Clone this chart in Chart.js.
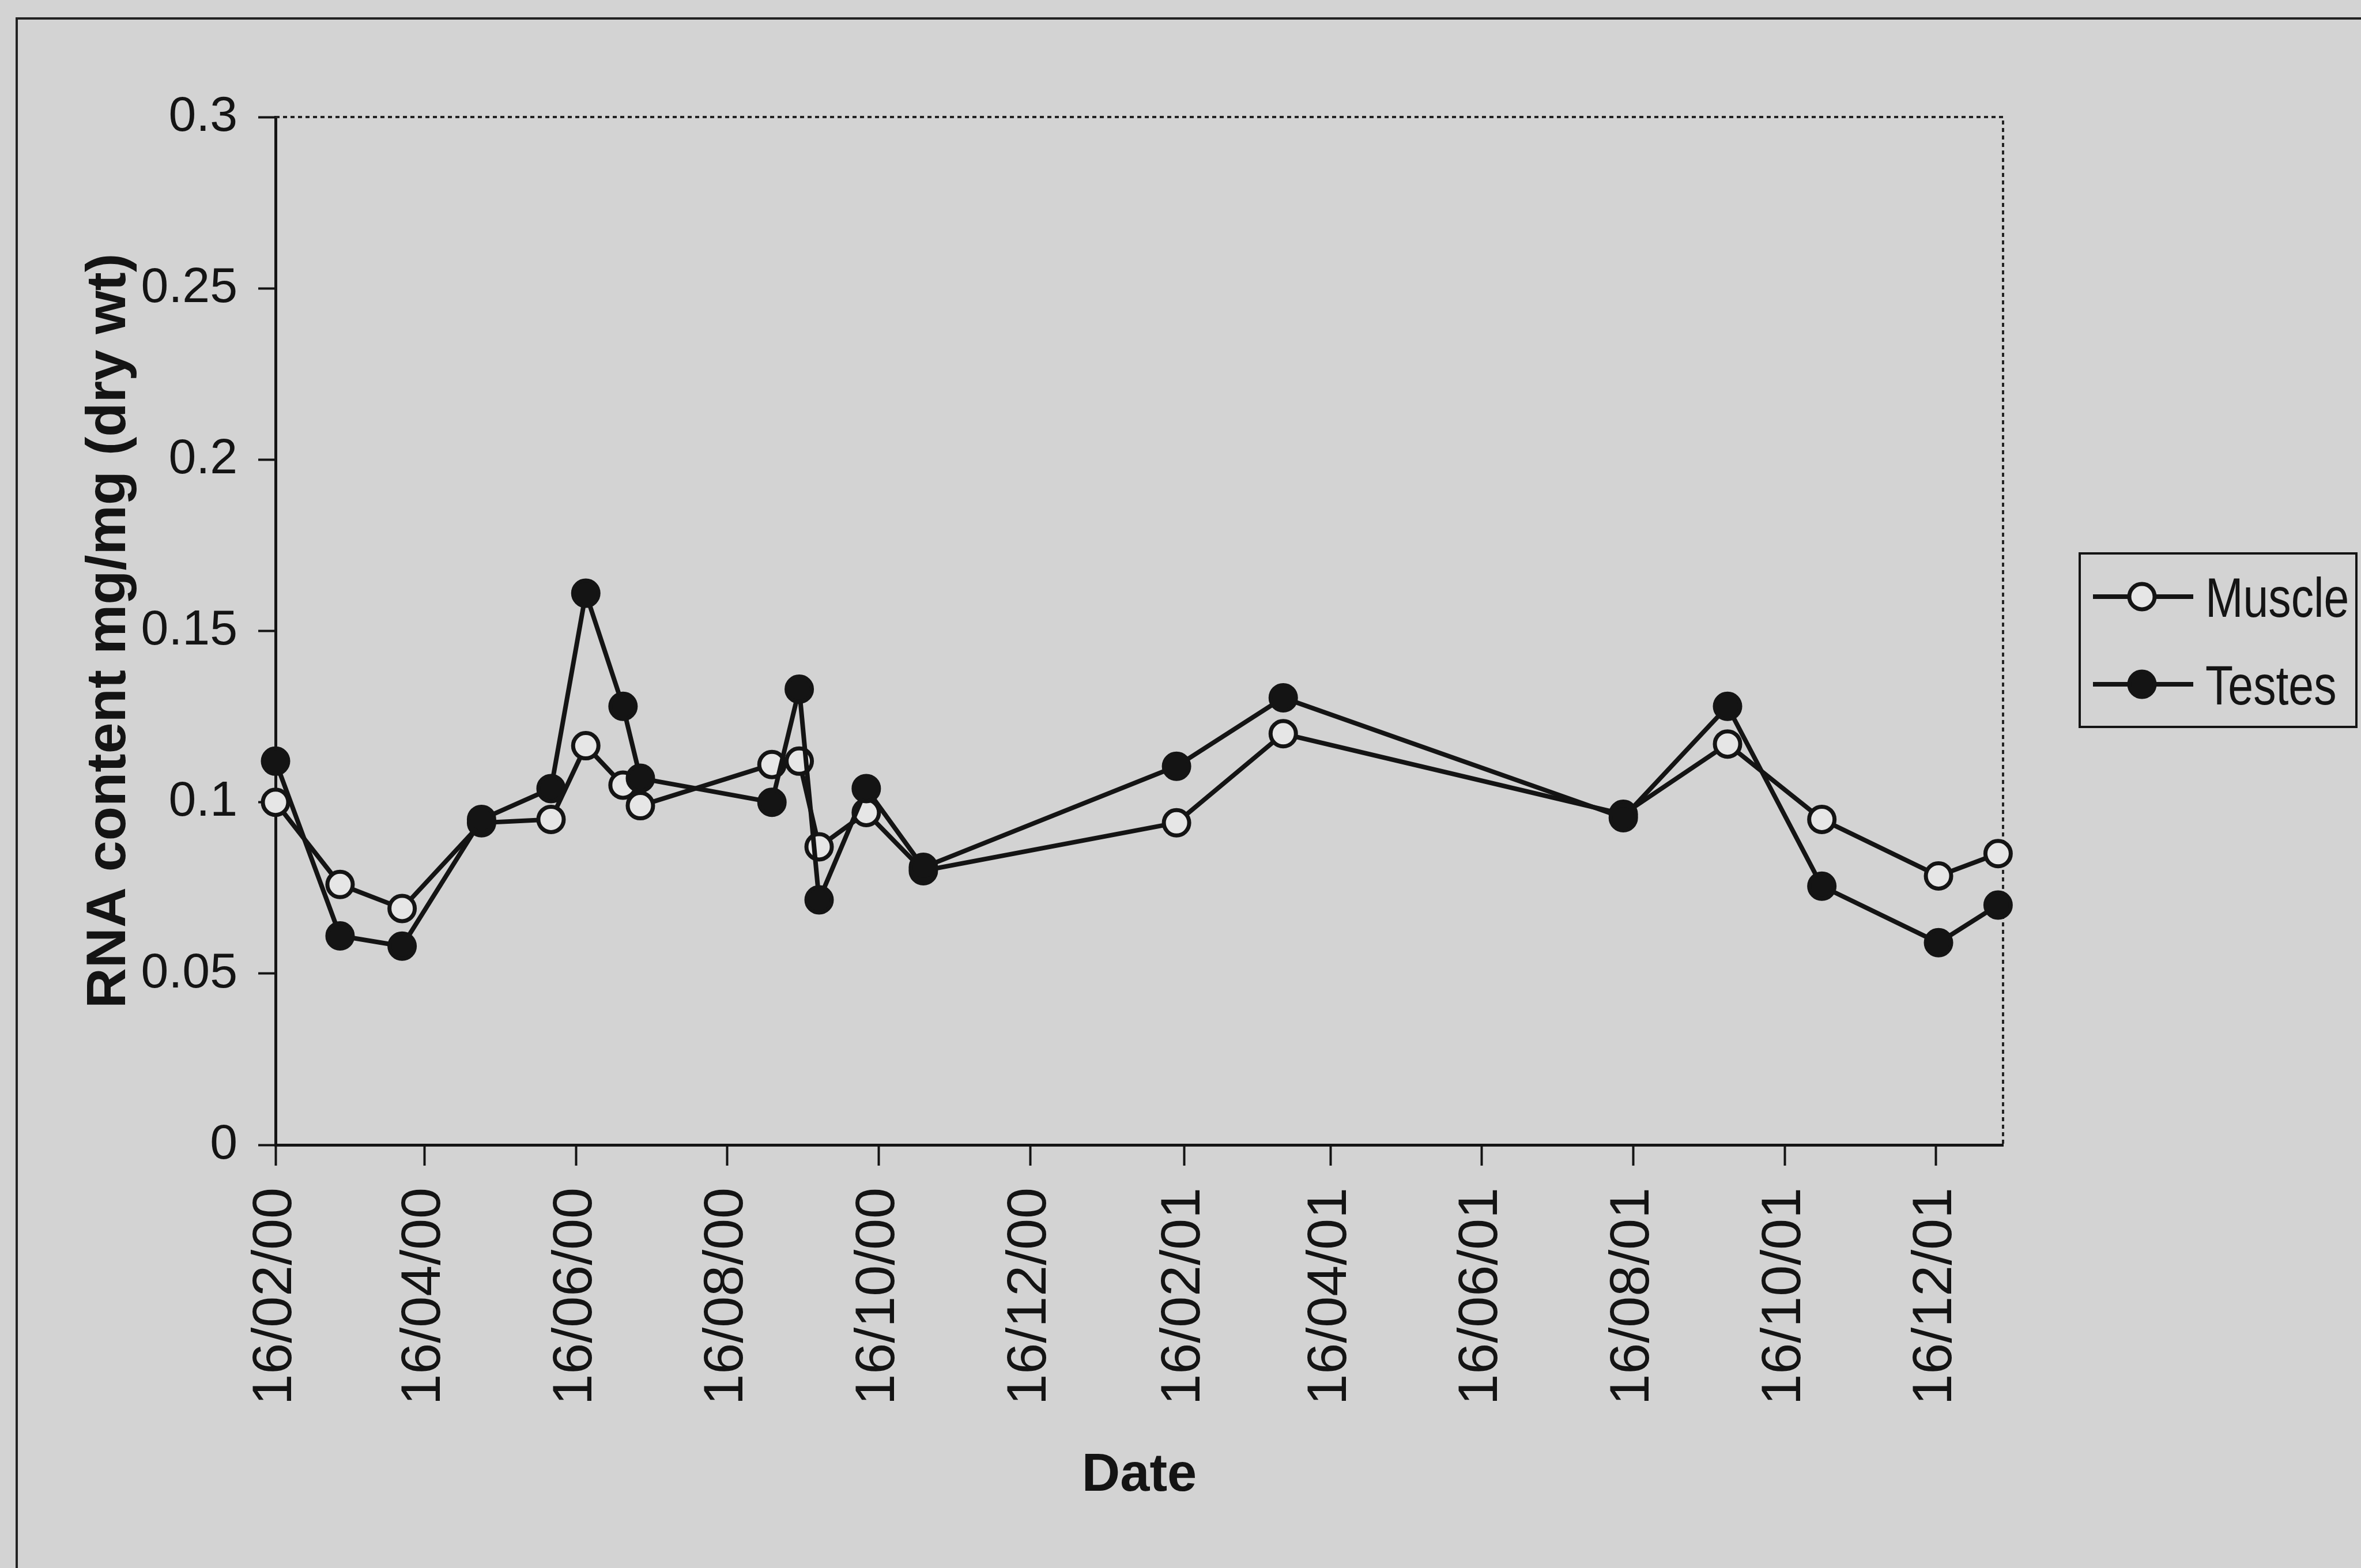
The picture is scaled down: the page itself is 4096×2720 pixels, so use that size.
<!DOCTYPE html>
<html>
<head>
<meta charset="utf-8">
<script src="https://cdn.jsdelivr.net/npm/chart.js@4.4.1/dist/chart.umd.min.js"></script>
<style>
  html, body { margin: 0; padding: 0; background: #d3d3d3; }
  canvas { display: block; }
</style>
</head>
<body>
<canvas id="rnaChart" width="4096" height="2720"></canvas>
<script>
// Ngày lấy mẫu (dd/mm/yy)
const sampleDates = ['16/02/00', '13/03/00', '07/04/00', '09/05/00', '06/06/00', '20/06/00', '05/07/00',
    '12/07/00', '03/09/00', '14/09/00', '22/09/00', '11/10/00', '03/11/00', '13/02/01', '28/03/01',
    '12/08/01', '23/09/01', '31/10/01', '17/12/01', '10/01/02'];
const muscleValues = [0.100, 0.076, 0.069, 0.094, 0.095, 0.1165, 0.105, 0.099, 0.111, 0.112, 0.087,
    0.097, 0.080, 0.094, 0.120, 0.0965, 0.117, 0.095, 0.0785, 0.085];
const testesValues = [0.112, 0.061, 0.058, 0.095, 0.104, 0.161, 0.128, 0.107, 0.100, 0.133, 0.0715,
    0.104, 0.081, 0.1105, 0.1305, 0.0955, 0.128, 0.0755, 0.059, 0.070];

// Nhãn trục x, trục kết thúc ở ngày cuối
const tickLabels = ['16/02/00', '16/04/00', '16/06/00', '16/08/00', '16/10/00', '16/12/00',
    '16/02/01', '16/04/01', '16/06/01', '16/08/01', '16/10/01', '16/12/01'];
const axisEnd = '12/01/02';

const FONT = '"Liberation Sans", Arial, Helvetica, sans-serif';
const INK = '#141414';

function parseDate(s) {
    const [d, m, y] = s.split('/').map(Number);
    return Date.UTC(2000 + y, m - 1, d);
}
const startTime = parseDate(tickLabels[0]);
const toDays = s => (parseDate(s) - startTime) / 86400000;
const tickDays = tickLabels.map(toDays);

// Nền, khung ngoài, viền chấm của vùng vẽ
const framePlugin = {
    id: 'framePlugin',
    beforeDraw(chart) {
        const ctx = chart.ctx;
        ctx.save();
        ctx.fillStyle = '#d3d3d3';
        ctx.fillRect(0, 0, chart.width, chart.height);
        ctx.strokeStyle = '#222';
        ctx.lineWidth = 4;
        ctx.strokeRect(29, 32, chart.width + 200, chart.height + 200);
        ctx.restore();
    },
    beforeDatasetsDraw(chart) {
        const { ctx, chartArea: a } = chart;
        ctx.save();
        ctx.strokeStyle = '#222';
        ctx.lineWidth = 4;
        ctx.setLineDash([7, 6]);
        ctx.beginPath();
        ctx.moveTo(a.left, a.top);
        ctx.lineTo(a.right, a.top);
        ctx.lineTo(a.right, a.bottom);
        ctx.stroke();
        ctx.restore();
    }
};

// Chú thích có khung bên phải
const boxLegend = {
    id: 'boxLegend',
    afterDraw(chart) {
        const ctx = chart.ctx;
        ctx.save();
        ctx.strokeStyle = INK;
        ctx.lineWidth = 4;
        ctx.strokeRect(3608, 960, 480, 301);
        chart.data.datasets.forEach((ds, i) => {
            const y = 1035 + i * 152;
            ctx.strokeStyle = ds.borderColor;
            ctx.lineWidth = ds.borderWidth;
            ctx.beginPath();
            ctx.moveTo(3631, y);
            ctx.lineTo(3805, y);
            ctx.stroke();
            ctx.beginPath();
            ctx.arc(3716, y, ds.pointRadius, 0, Math.PI * 2);
            ctx.fillStyle = ds.pointBackgroundColor;
            ctx.fill();
            ctx.lineWidth = ds.pointBorderWidth;
            ctx.stroke();
            ctx.fillStyle = INK;
            ctx.font = '96px ' + FONT;
            ctx.textBaseline = 'alphabetic';
            const w = ctx.measureText(ds.label).width;
            ctx.fillText(ds.label, 3826, y + 35, w * 0.82);
        });
        ctx.restore();
    }
};

const ctx = document.getElementById('rnaChart').getContext('2d');

const rnaChart = new Chart(ctx, {
    type: 'line',
    data: {
        datasets: [{
            label: 'Muscle',
            data: sampleDates.map((d, i) => ({ x: toDays(d), y: muscleValues[i] })),
            borderColor: INK,
            borderWidth: 8,
            pointRadius: 22,
            pointBorderWidth: 7,
            pointBackgroundColor: '#e6e6e6',
            pointBorderColor: INK,
            tension: 0,
            clip: false,
            order: 1
        }, {
            label: 'Testes',
            data: sampleDates.map((d, i) => ({ x: toDays(d), y: testesValues[i] })),
            borderColor: INK,
            borderWidth: 8,
            pointRadius: 22,
            pointBorderWidth: 7,
            pointBackgroundColor: INK,
            pointBorderColor: INK,
            tension: 0,
            clip: false,
            order: 0
        }]
    },
    options: {
        responsive: false,
        animation: false,
        devicePixelRatio: 1,
        layout: { padding: { left: 0, top: 203, right: 621, bottom: 0 } },
        plugins: { legend: { display: false }, tooltip: { enabled: false } },
        scales: {
            x: {
                type: 'linear',
                min: 0,
                max: toDays(axisEnd),
                afterFit: s => { s.height = 734; },
                afterBuildTicks: s => { s.ticks = tickDays.map(v => ({ value: v })); },
                grid: { drawOnChartArea: false, drawTicks: true, tickLength: 36, tickWidth: 4, tickColor: INK },
                border: { display: true, color: INK, width: 5 },
                ticks: {
                    autoSkip: false,
                    maxRotation: 90,
                    minRotation: 90,
                    padding: 38,
                    color: INK,
                    font: { family: FONT, size: 97 },
                    callback: (v, i) => tickLabels[i]
                },
                title: {
                    display: true,
                    text: 'Date',
                    color: INK,
                    font: { family: FONT, size: 92, weight: 'bold' },
                    padding: { top: 0, bottom: 104 }
                }
            },
            y: {
                min: 0,
                max: 0.3,
                afterFit: s => { s.width = 478; },
                grid: { drawOnChartArea: false, drawTicks: true, tickLength: 30, tickWidth: 4, tickColor: INK },
                border: { display: true, color: INK, width: 5 },
                ticks: {
                    stepSize: 0.05,
                    padding: 36,
                    color: INK,
                    font: { family: FONT, size: 86 },
                    callback: v => String(+v.toFixed(2))
                },
                title: {
                    display: true,
                    text: 'RNA content mg/mg (dry wt)',
                    color: INK,
                    font: { family: FONT, size: 97, weight: 'bold' },
                    padding: { top: 132, bottom: 0 }
                }
            }
        }
    },
    plugins: [framePlugin, boxLegend]
});
</script>
</body>
</html>
